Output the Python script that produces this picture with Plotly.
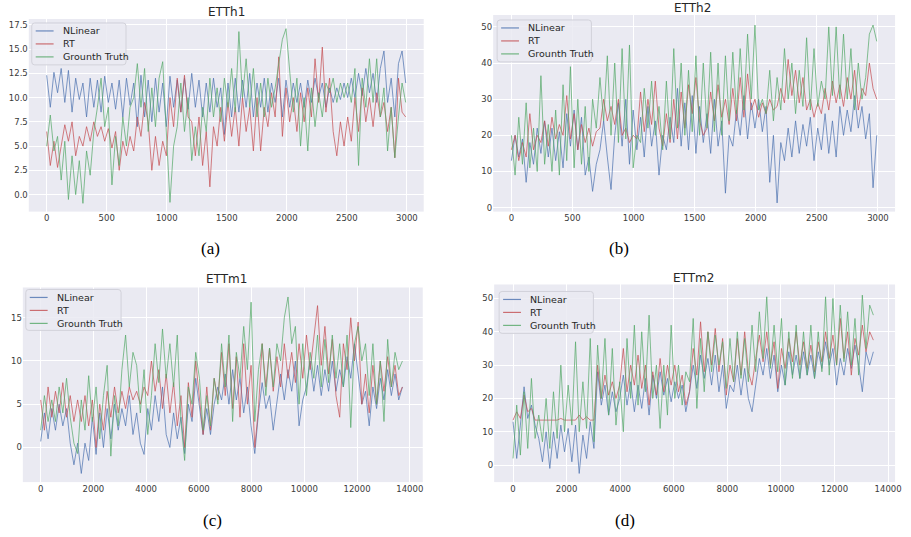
import numpy as np
import plotly.graph_objects as go

W, H = 911, 537

# ---------------- data ----------------
titles = ["ETTh1", "ETTh2", "ETTm1", "ETTm2"]
captions = ["(a)", "(b)", "(c)", "(d)"]
series_names = ["NLinear", "RT", "Grounth Truth"]
x_end = [2990, 2990, 13720, 13450]

etth1_nlinear = [12.3, 9.0, 12.6, 10.5, 13.0, 9.5, 12.8, 8.5, 12.0, 9.8,
                 11.5, 8.0, 12.0, 9.0, 11.8, 8.5, 12.2, 9.5, 11.5, 8.8,
                 11.8, 8.0, 12.0, 9.2, 11.5, 7.0, 12.3, 8.0, 11.8, 7.5,
                 12.0, 8.5, 11.5, 7.0, 12.2, 9.0, 11.8, 8.5, 12.0, 8.8,
                 12.5, 9.0, 11.8, 8.0, 11.5, 8.5, 12.0, 9.0, 11.0, 6.2,
                 11.5, 8.0, 12.0, 8.5, 11.8, 9.0, 12.5, 8.0, 11.5, 9.0,
                 12.0, 8.5, 11.5, 9.5, 12.0, 8.0, 11.8, 9.0, 11.5, 9.5,
                 11.5, 9.0, 11.8, 9.5, 12.0, 10.0, 11.5, 9.0, 11.0, 9.5,
                 11.0, 9.8, 11.5, 10.0, 12.0, 10.0, 12.5, 10.2, 13.0, 10.5,
                 12.5, 9.5, 13.0, 14.8, 9.5, 12.0, 8.0, 13.5, 14.8, 11.5]
etth1_rt = [6.5, 3.0, 5.5, 2.8, 5.0, 7.2, 5.5, 7.5, 4.0, 6.0,
            5.0, 7.0, 5.5, 7.5, 6.0, 7.0, 5.5, 6.8, 4.8, 6.5,
            2.5, 5.5, 4.0, 6.0, 4.5, 8.0, 6.0, 9.5, 7.5, 2.5,
            6.0, 3.0, 5.5, 4.0, 10.0, 7.0, 12.0, 8.5, 12.3, 8.0,
            7.5, 4.0, 8.0, 3.0, 6.5, 0.8, 7.0, 5.0, 9.0, 5.5,
            9.5, 6.0, 9.0, 5.0, 10.0, 6.5, 9.0, 4.5, 10.0, 4.5,
            9.0, 7.0, 10.5, 8.0, 14.2, 6.0, 11.0, 7.5, 10.0, 6.5,
            10.5, 7.5, 11.0, 8.0, 14.0, 9.5, 15.2, 8.5, 12.0, 6.5,
            4.0, 7.5, 5.0, 8.0, 5.5, 10.0, 6.5, 11.0, 7.5, 10.0,
            7.0, 10.5, 8.0, 9.5, 6.5, 9.0, 3.8, 12.0, 8.5, 8.0]
etth1_gt = [5.0, 8.2, 4.5, 6.0, 1.5, 5.5, -0.5, 4.0, 0.0, 3.5,
            -0.9, 4.5, 2.0, 6.5, 9.0, 12.0, 7.0, 9.0, 1.0, 6.0,
            3.0, 8.0, 5.0, 9.0, 10.0, 13.5, 9.0, 13.0, 6.5, 11.0,
            7.0, 12.0, 13.7, 6.0, -0.8, 5.0, 7.0, 11.5, 6.5, 10.0,
            3.5, 7.0, 4.0, 9.0, 6.5, 12.0, 8.0, 11.0, 7.5, 12.0,
            9.0, 13.0, 8.5, 16.8, 10.0, 14.0, 9.0, 13.0, 8.0, 11.5,
            8.0, 12.0, 9.0, 11.0, 13.5, 16.0, 17.1, 13.0, 8.5, 12.0,
            5.0, 10.0, 4.5, 11.0, 7.0, 10.5, 8.0, 11.5, 10.5, 12.0,
            9.5, 11.5, 10.0, 11.5, 9.5, 13.0, 3.0, 12.0, 9.0, 14.0,
            9.5, 14.0, 8.0, 11.0, 4.5, 9.0, 3.8, 8.0, 11.5, 9.5]

etth2_nlinear = [13, 20, 14, 19, 7, 18, 12, 22, 15, 24,
                 14, 22, 13, 21, 11, 26, 17, 27, 16, 25,
                 9, 14, 4.5, 12, 16, 24, 14, 5, 20, 29,
                 17, 30, 12, 27, 16, 25, 14, 28, 17, 24,
                 9, 20, 16, 25, 18, 33, 17, 29, 16, 31,
                 15, 28, 18, 26, 15, 30, 17, 24, 4, 20,
                 17, 27, 20, 31, 19, 29, 22, 30, 21, 28,
                 7, 20, 1.3, 18, 13, 22, 14, 24, 15, 23,
                 17, 25, 13, 22, 16, 26, 15, 24, 14, 28,
                 20, 27, 21, 31, 22, 28, 19, 26, 5.5, 20]
etth2_rt = [16, 20, 13, 18, 14, 26, 16, 20, 18, 24,
            17, 25, 19, 23, 20, 31, 19, 26, 16, 23,
            18, 22, 17, 21, 22, 30, 24, 28, 23, 30,
            20, 22, 18, 20, 19, 32, 21, 30, 23, 35,
            22, 17, 26, 18, 30, 19, 32, 22, 34, 26,
            36, 24, 20, 22, 32, 24, 34, 25, 30, 23,
            33, 24, 36, 25, 37, 27, 30, 25, 29, 26,
            30, 27, 28, 33, 29, 41, 31, 38, 29, 36,
            27, 30, 25, 29, 26, 33, 27, 35, 29, 34,
            28, 36, 30, 38, 27, 33, 31, 40, 33, 30]
etth2_gt = [20, 9, 25, 12, 29, 11, 22, 10, 36.5, 12,
            23, 10, 27, 9, 34, 13, 39, 11, 30, 12,
            28, 10, 30, 22, 36, 24, 42, 20, 40, 18,
            44, 19, 45, 11, 20, 18, 33, 22, 35, 20,
            28, 16, 35, 19, 44, 22, 40, 20, 38, 21,
            42, 20, 40, 22, 43, 21, 40, 20, 42, 24,
            43, 26, 44, 27, 48, 30, 50.5, 27, 30, 26,
            38, 24, 36, 27, 44, 30, 40, 26, 38, 28,
            47, 27, 44, 28, 35, 30, 50, 31, 50, 30,
            48, 30, 44, 27, 40, 30, 36, 48, 50.5, 46]

ettm1_nlinear = [0.7, 4.0, 1.0, 4.5, 2.0, 5.0, 2.5, 4.5, 0.5, -2.0,
                 0.5, -3.0, 0.5, -1.5, 3.5, -0.8, 4.0, 0.0, 4.5, 1.0,
                 5.0, 2.0, 4.5, 2.5, 6.0, 1.5, 4.0, 0.5, -0.8, 4.5,
                 2.0, 6.0, 3.0, 7.0, 1.5, 0.0, 4.0, 1.0, 3.5, -0.7,
                 5.0, 3.0, 8.0, 5.0, 1.5, 4.5, 1.5, 5.0, 7.0, 5.5,
                 8.5, 5.0, 9.0, 5.5, 8.0, 4.0, 7.0, 2.5, -0.7, 4.0,
                 7.5, 4.5, 6.0, 2.0, 5.0, 8.5, 5.5, 9.0, 6.5, 10.0,
                 2.5, 5.5, 7.0, 10.0, 6.5, 9.5, 6.0, 9.0, 6.5, 10.0,
                 6.5, 9.0, 7.0, 10.5, 8.0, 12.0, 8.5, 5.0, 6.5, 2.5,
                 7.0, 4.5, 8.0, 5.5, 9.0, 6.0, 8.5, 5.5, 7.0]
ettm1_rt = [5.5, 2.0, 7.0, 3.5, 6.5, 4.0, 7.5, 3.5, 6.0, 3.0,
            5.5, 3.0, 6.0, 2.5, 5.5, 0.0, 5.0, 2.0, 6.5, 3.5,
            7.0, 4.0, 6.5, 4.5, 7.0, 5.5, 6.5, 5.0, 7.0, 6.0,
            10.0, 6.5, 9.0, 4.5, 8.5, 4.0, 7.5, 2.5, 6.0, 0.0,
            7.5, 3.5, 10.0, 6.0, 1.5, 7.0, 2.0, 8.0, 5.5, 11.0,
            6.0, 12.0, 4.5, 10.5, 3.5, 12.0, 5.0, 9.5, 0.0, 4.5,
            12.0, 7.0, 11.5, 6.5, 10.5, 7.0, 12.0, 8.0, 11.0, 7.5,
            12.0, 8.0, 13.0, 9.0, 12.5, 16.4, 9.5, 14.0, 8.5, 12.5,
            6.0, 3.5, 12.0, 9.0, 15.0, 10.0, 14.5, 5.0, 8.5, 4.0,
            9.5, 5.0, 10.0, 6.5, 10.5, 7.0, 9.5, 6.0, 7.0]
ettm1_gt = [2.0, 6.0, 3.0, 5.5, 3.0, 7.0, 4.0, 8.0, 3.5, 0.5,
            -0.7, 5.5, 2.0, 8.3, 3.0, 7.0, 1.0, 6.0, 9.5, -1.0,
            6.0, 2.5, 9.0, 13.0, 7.0, 11.0, 9.5, 4.0, 9.0, 1.5,
            6.0, 12.0, 7.5, 13.7, 8.0, 12.0, 7.0, 13.0, 3.0, -1.5,
            7.0, 5.0, 11.0, 8.0, 2.0, 6.0, 2.5, 8.0, 5.0, 12.0,
            7.0, 13.0, 3.0, 11.0, 8.0, 14.0, 9.0, 16.8, 3.0, 9.0,
            12.0, 6.0, 11.5, 7.0, 12.0, 10.0, 15.0, 17.4, 12.0, 14.0,
            5.0, 12.0, 6.0, 11.0, 8.0, 13.0, 7.0, 12.5, 7.5, 13.0,
            8.0, 12.0, 7.0, 13.0, 2.3, 12.0, 14.0, 10.0, 12.0, 6.0,
            12.0, 5.0, 10.0, 3.0, 12.5, 7.0, 11.0, 9.0, 10.0]

ettm2_nlinear = [13.0, 2.0, 12.0, 23.5, 14.0, 18.0, 12.0, 8.0, 1.0, 10.0,
                 -1.0, 10.0, 2.0, 12.0, 4.0, 11.0, 1.0, 12.0, -2.5, 9.0,
                 2.0, 13.0, 5.0, 28.0, 18.0, 24.0, 15.0, 22.0, 16.0, 20.0,
                 27.0, 18.0, 25.0, 16.0, 24.0, 17.0, 26.0, 15.0, 27.0, 20.0,
                 28.0, 21.0, 26.0, 19.0, 25.0, 20.0, 24.0, 16.0, 22.0, 30.0,
                 23.0, 33.0, 26.0, 32.0, 24.0, 33.0, 22.0, 30.0, 17.0, 24.0,
                 22.0, 30.0, 21.0, 29.0, 20.0, 16.0, 24.0, 32.0, 27.0, 35.0,
                 26.0, 33.0, 22.0, 30.0, 24.0, 34.0, 27.0, 33.0, 26.0, 34.0,
                 27.0, 33.0, 26.0, 34.0, 29.0, 37.0, 30.0, 35.0, 24.0, 32.0,
                 27.0, 35.0, 29.0, 36.0, 30.0, 22.0, 34.0, 30.0, 34.0]
ettm2_rt = [13.5, 16.0, 14.0, 21.0, 16.0, 17.0, 13.5, 13.5, 13.5, 13.5,
            13.5, 13.5, 13.5, 14.0, 13.5, 13.5, 13.5, 13.5, 15.0, 13.5,
            14.5, 13.5, 13.5, 30.0, 20.0, 27.0, 21.0, 25.0, 20.0, 24.0,
            35.0, 22.0, 30.0, 24.0, 33.0, 23.0, 30.0, 18.0, 28.0, 21.0,
            32.0, 22.0, 30.0, 24.0, 30.0, 22.0, 27.0, 18.0, 22.0, 35.0,
            27.0, 43.0, 28.0, 40.0, 30.0, 41.0, 28.0, 38.0, 21.0, 30.0,
            25.0, 38.0, 27.0, 40.0, 28.0, 24.0, 32.0, 39.0, 31.0, 40.0,
            30.0, 37.0, 23.0, 35.0, 29.0, 38.0, 31.0, 40.0, 30.0, 37.0,
            29.0, 36.0, 28.0, 37.0, 31.0, 40.0, 32.0, 39.0, 30.0, 44.0,
            32.0, 40.0, 27.0, 38.0, 33.0, 42.0, 34.0, 40.0, 37.5]
ettm2_gt = [2.0, 18.0, 3.0, 22.0, 5.0, 26.0, 8.0, 15.0, 7.0, 20.0,
            5.0, 22.0, 8.0, 30.0, 10.0, 24.0, 12.0, 37.0, 10.0, 25.0,
            11.0, 38.0, 7.0, 36.0, 20.0, 38.0, 15.0, 35.0, 12.0, 25.0,
            10.0, 38.0, 20.0, 42.0, 18.0, 40.0, 22.0, 45.0, 20.0, 30.0,
            11.0, 30.0, 15.0, 42.0, 20.0, 30.0, 18.0, 28.0, 25.0, 44.0,
            17.0, 38.0, 22.0, 40.0, 28.0, 39.0, 30.0, 37.0, 23.0, 38.0,
            25.0, 40.0, 26.0, 38.0, 25.0, 42.0, 28.0, 46.0, 32.0, 50.5,
            29.0, 42.0, 28.0, 44.0, 24.0, 40.0, 26.0, 42.0, 26.0, 40.0,
            27.0, 42.0, 26.0, 40.0, 28.0, 50.5, 27.0, 50.0, 30.0, 48.0,
            31.0, 46.0, 30.0, 44.0, 27.0, 51.0, 35.0, 48.0, 45.0]

panel_series = [
    [etth1_nlinear, etth1_rt, etth1_gt],
    [etth2_nlinear, etth2_rt, etth2_gt],
    [ettm1_nlinear, ettm1_rt, ettm1_gt],
    [ettm2_nlinear, ettm2_rt, ettm2_gt],
]

y_ticks = [[0, 2.5, 5, 7.5, 10, 12.5, 15, 17.5],
           [0, 10, 20, 30, 40, 50],
           [0, 5, 10, 15],
           [0, 10, 20, 30, 40, 50]]
y_ticktext = [["0.0", "2.5", "5.0", "7.5", "10.0", "12.5", "15.0", "17.5"],
              ["0", "10", "20", "30", "40", "50"],
              ["0", "5", "10", "15"],
              ["0", "10", "20", "30", "40", "50"]]
x_ticks = [[0, 500, 1000, 1500, 2000, 2500, 3000],
           [0, 500, 1000, 1500, 2000, 2500, 3000],
           [0, 2000, 4000, 6000, 8000, 10000, 12000, 14000],
           [0, 2000, 4000, 6000, 8000, 10000, 12000, 14000]]
x_ticktext = [["0", "500", "1000", "1500", "2000", "2500", "3000"],
              ["0", "500", "1000", "1500", "2000", "2500", "3000"],
              ["0", "2000", "4000", "6000", "8000", "10000", "12000", "14000"],
              ["0", "2000", "4000", "6000", "8000", "10000", "12000", "14000"]]

# ---------------- layout / style ----------------
colors = ["#4C72B0", "#C44E52", "#55A868"]
# plot areas in pixels: (left, right, top, bottom)
areas = [(29, 427, 19, 212), (497, 902, 15, 212),
         (23, 426, 288, 483), (498, 902, 285, 483)]
x_ranges = [[-149, 3140], [-149, 3140], [-678, 14490], [-704, 14260]]
y_ranges = [[-1.75, 18.1], [-1.1, 53.3], [-4.0, 18.5], [-5.1, 54.2]]
# legend boxes in pixels: (left, top, width, height)
legend_box = [(32, 23, 95, 42), (501, 20, 95, 42), (26, 290, 96, 41), (503, 292, 95, 42)]
title_pos = [(228, 12), (698, 8), (228, 280), (699, 279)]
caption_pos = [(212, 249), (624, 249), (214, 521), (630, 521)]


def px(x):
    return x / W


def py(y):
    return 1 - y / H


def rounded_rect(x0, y0, x1, y1, r=3):
    pts = []
    pts.append(f"M {px(x0 + r)},{py(y0)}")
    pts.append(f"L {px(x1 - r)},{py(y0)}")
    pts.append(f"Q {px(x1)},{py(y0)} {px(x1)},{py(y0 + r)}")
    pts.append(f"L {px(x1)},{py(y1 - r)}")
    pts.append(f"Q {px(x1)},{py(y1)} {px(x1 - r)},{py(y1)}")
    pts.append(f"L {px(x0 + r)},{py(y1)}")
    pts.append(f"Q {px(x0)},{py(y1)} {px(x0)},{py(y1 - r)}")
    pts.append(f"L {px(x0)},{py(y0 + r)}")
    pts.append(f"Q {px(x0)},{py(y0)} {px(x0 + r)},{py(y0)}")
    return " ".join(pts) + " Z"


fig = go.Figure()
layout = dict(width=W, height=H, margin=dict(l=0, r=0, t=0, b=0),
              paper_bgcolor="white", plot_bgcolor="#EAEAF2",
              font=dict(family="DejaVu Sans", color="#262626"),
              annotations=[], shapes=[], showlegend=False)

for p in range(4):
    sfx = "" if p == 0 else str(p + 1)
    xa, ya = "x" + sfx, "y" + sfx
    for s in range(3):
        vals = panel_series[p][s]
        xs = np.linspace(0, x_end[p], len(vals))
        fig.add_trace(go.Scatter(
            x=xs, y=vals, mode="lines", name=series_names[s],
            line=dict(color=colors[s], width=0.9), opacity=0.8,
            xaxis=xa, yaxis=ya, hoverinfo="skip"))
    l, r, t, b = areas[p]
    layout["xaxis" + sfx] = dict(
        domain=[l / W, r / W], range=x_ranges[p], anchor=ya,
        tickvals=x_ticks[p], ticktext=x_ticktext[p], ticks="",
        showline=False, zeroline=False, ticklabeloverflow="allow",
        gridcolor="white", gridwidth=1, tickfont=dict(size=8.5, color="#3a3a3a"))
    layout["yaxis" + sfx] = dict(
        domain=[1 - b / H, 1 - t / H], range=y_ranges[p], anchor=xa,
        tickvals=y_ticks[p], ticktext=y_ticktext[p], ticks="",
        showline=False, zeroline=False, gridcolor="white", gridwidth=1,
        tickfont=dict(size=8.5, color="#3a3a3a"))

    # legend drawn as decoration
    lx, ly, lw, lh = legend_box[p]
    layout["shapes"].append(dict(
        type="path", xref="paper", yref="paper",
        path=rounded_rect(lx, ly, lx + lw, ly + lh),
        fillcolor="rgba(234,234,242,0.85)", line=dict(color="#d2d2da", width=1)))
    row_offsets = [8, 21, 34]
    for s in range(3):
        yy = ly + row_offsets[s]
        layout["shapes"].append(dict(
            type="line", xref="paper", yref="paper",
            x0=px(lx + 4), x1=px(lx + 22), y0=py(yy), y1=py(yy),
            line=dict(color=colors[s], width=1.2), opacity=0.8))
        layout["annotations"].append(dict(
            text=series_names[s], x=px(lx + 29), y=py(yy), xref="paper", yref="paper",
            showarrow=False, xanchor="left", yanchor="middle",
            font=dict(size=9.5, color="#262626")))

    tx, ty = title_pos[p]
    layout["annotations"].append(dict(
        text=titles[p], x=px(tx), y=py(ty), xref="paper", yref="paper",
        showarrow=False, xanchor="center", yanchor="middle",
        font=dict(size=12, color="#262626")))
    cx, cy = caption_pos[p]
    layout["annotations"].append(dict(
        text=captions[p], x=px(cx), y=py(cy), xref="paper", yref="paper",
        showarrow=False, xanchor="center", yanchor="middle",
        font=dict(size=17, family="Liberation Serif", color="black")))

fig.update_layout(**layout)
fig.write_html("out.html",
               config={"displayModeBar": False, "staticPlot": True},
               post_script="document.body.style.margin='0';document.body.style.overflow='hidden';")
